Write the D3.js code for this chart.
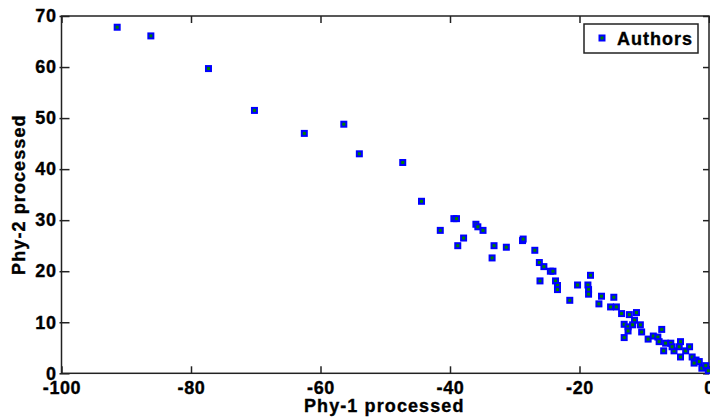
<!DOCTYPE html>
<html>
<head>
<meta charset="utf-8">
<script src="https://cdn.jsdelivr.net/npm/d3@7"></script>
<style>
  body { margin: 0; background: #fff; }
  text { font-family: "Liberation Sans", Arial, sans-serif; font-weight: bold; fill: #000; stroke: #000; stroke-width: 0.35px; }
</style>
</head>
<body>
<svg width="710" height="417"></svg>
<script>
// values
const phy1 = [-91.4, -86.2, -77.3, -70.2, -62.5, -56.4, -54.0, -47.3, -44.4, -39.4,
  -39.0, -41.5, -38.8, -37.9, -36.0, -35.7, -34.9, -33.2, -33.5, -31.3,
  -28.8, -28.7, -26.9, -26.2, -25.5, -24.5, -24.1, -26.1, -23.7, -23.4,
  -23.4, -21.5, -20.3, -18.3, -18.7, -18.6, -18.6, -17.0, -16.6, -14.7,
  -15.2, -14.3, -13.5, -13.1, -13.1, -12.5, -12.5, -12.3, -11.2, -11.5,
  -11.8, -10.6, -10.4, -9.4, -8.6, -7.9, -7.3, -7.0, -7.7, -6.7,
  -5.9, -5.4, -4.4, -4.6, -5.7, -3.6, -3.0, -4.4, -2.6, -2.0,
  -1.5, -2.3, -1.1, -0.5, -0.1]
const phy2 = [67.8, 66.1, 59.7, 51.5, 47.0, 48.8, 43.0, 41.3, 33.7, 30.3,
  30.3, 28.0, 25.0, 26.5, 29.2, 28.7, 28.0, 25.0, 22.6, 24.7,
  26.0, 26.3, 24.1, 21.7, 20.9, 20.0, 20.0, 18.1, 18.1, 17.2,
  16.4, 14.3, 17.3, 19.2, 17.3, 16.4, 15.5, 13.6, 15.1, 14.9,
  13.0, 13.0, 11.7, 7.0, 9.6, 9.1, 8.3, 11.5, 11.9, 10.4,
  9.5, 9.5, 8.1, 6.7, 7.3, 7.1, 8.6, 4.4, 6.2, 5.9,
  5.9, 4.4, 6.2, 5.2, 5.2, 4.4, 5.2, 3.2, 3.2, 2.6,
  2.3, 2.0, 1.0, 1.5, 0.5]

const xTicks = [-100, -80, -60, -40, -20, 0]
const yTicks = [0, 10, 20, 30, 40, 50, 60, 70]
const seriesName = 'Authors'
const xTitle = 'Phy-1 processed'
const yTitle = 'Phy-2 processed'

const points = phy1.map((d, i) => ({ x: d, y: phy2[i] }))

// plot box (window.top is read-only, so keep these in an object)
const box = { left: 61.5, right: 709, top: 16, bottom: 373.3 }

var svg = d3.select('svg');

var x = d3.scaleLinear().domain([-100, 0]).range([box.left, box.right]);
var y = d3.scaleLinear().domain([0, 70]).range([box.bottom, box.top]);

function styleAxis(g) {
  g.select('.domain').remove();
  g.selectAll('line').attr('stroke', '#222').attr('stroke-width', 1.5);
  g.selectAll('text')
    .attr('font-size', 18)
    .attr('letter-spacing', 0.6)
    .attr('fill', '#000');
}

svg.append('g')
    .attr('transform', `translate(0,${box.bottom})`)
    .call(d3.axisBottom(x).tickValues(xTicks).tickSize(-7).tickPadding(8).tickFormat(d => String(d)))
    .call(styleAxis);

svg.append('g')
    .attr('transform', `translate(0,${box.top})`)
    .call(d3.axisTop(x).tickValues(xTicks).tickSize(-7).tickFormat(''))
    .call(styleAxis);

svg.append('g')
    .attr('transform', `translate(${box.left},0)`)
    .call(d3.axisLeft(y).tickValues(yTicks).tickSize(-8).tickPadding(5).tickFormat(d => String(d)))
    .call(styleAxis)
    .call(g => g.selectAll('line').attr('x1', -2));

svg.append('g')
    .attr('transform', `translate(${box.right},0)`)
    .call(d3.axisRight(y).tickValues(yTicks).tickSize(-6).tickFormat(''))
    .call(styleAxis);

// frame
svg.append('rect')
    .attr('x', box.left).attr('y', box.top)
    .attr('width', box.right - box.left).attr('height', box.bottom - box.top)
    .attr('fill', 'none').attr('stroke', '#222').attr('stroke-width', 1.5);

// markers
svg.append('g').selectAll('rect')
    .data(points)
  .enter().append('rect')
    .attr('x', d => x(d.x) - 2.5)
    .attr('y', d => y(d.y) - 2.5)
    .attr('width', 5).attr('height', 5)
    .attr('fill', '#008000')
    .attr('stroke', '#0000ff')
    .attr('stroke-width', 2);

// titles
svg.append('text')
    .attr('x', (box.left + box.right) / 2 - 1).attr('y', 412)
    .attr('text-anchor', 'middle')
    .attr('font-size', 18).attr('letter-spacing', 1.1)
    .text(xTitle);

svg.append('text')
    .attr('transform', `translate(25,${(box.top + box.bottom) / 2}) rotate(-90)`)
    .attr('text-anchor', 'middle')
    .attr('font-size', 18).attr('letter-spacing', 1.1)
    .text(yTitle);

// legend
var legend = svg.append('g').attr('transform', 'translate(584,24)');
legend.append('rect')
    .attr('width', 114).attr('height', 29)
    .attr('fill', '#fff').attr('stroke', '#222').attr('stroke-width', 1.5);
legend.append('rect')
    .attr('x', 15.5).attr('y', 11.5).attr('width', 5).attr('height', 5)
    .attr('fill', '#008000').attr('stroke', '#0000ff').attr('stroke-width', 2);
legend.append('text')
    .attr('x', 33).attr('y', 20.5)
    .attr('font-size', 18).attr('letter-spacing', 1)
    .text(seriesName);
</script>
</body>
</html>
